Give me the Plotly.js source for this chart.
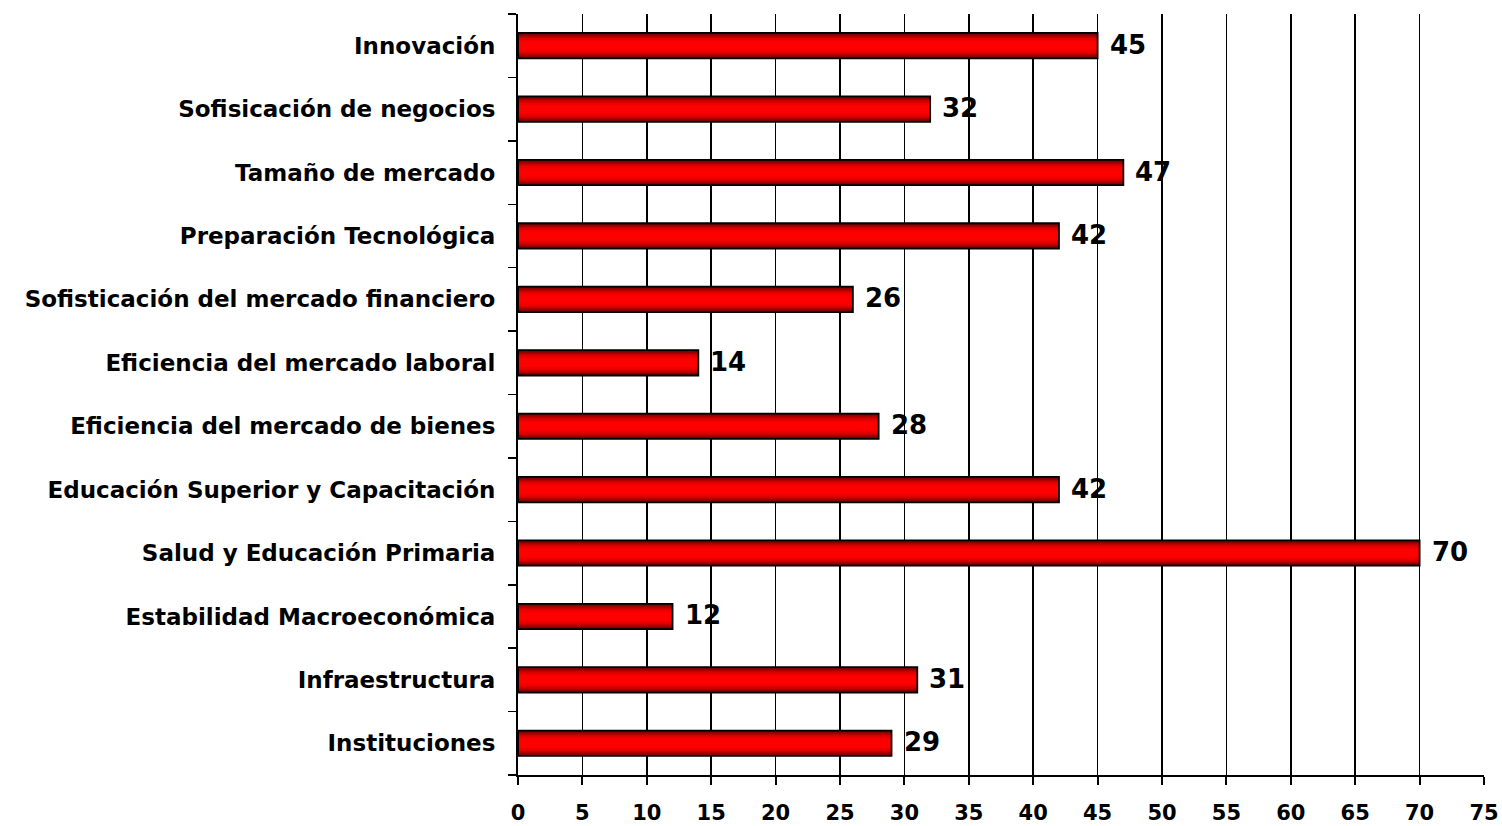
<!DOCTYPE html>
<html>
<head>
<meta charset="utf-8">
<script src="https://cdn.plot.ly/plotly-3.0.1.min.js"></script>
<style>html,body{margin:0;padding:0;background:#fff}#chart{width:1502px;height:826px}</style>
</head>
<body>
<div id="chart"></div>
<script>
const categories = [
  "Instituciones",
  "Infraestructura",
  "Estabilidad Macroeconómica",
  "Salud y Educación Primaria",
  "Educación Superior y Capacitación",
  "Eficiencia del mercado de bienes",
  "Eficiencia del mercado laboral",
  "Sofisticación del mercado financiero",
  "Preparación Tecnológica",
  "Tamaño de mercado",
  "Sofisicación de negocios",
  "Innovación"
];
const values = [29, 31, 12, 70, 42, 28, 14, 26, 42, 47, 32, 45];
const xTicks = [0,5,10,15,20,25,30,35,40,45,50,55,60,65,70,75];

const FONT = "DejaVu Sans, Verdana, sans-serif";
// layered bars to imitate the cylinder gradient
const layers = [
  {w: 0.40, c: "#6e0000"},
  {w: 0.36, c: "#8c0000"},
  {w: 0.32, c: "#aa0000"},
  {w: 0.28, c: "#c80000"},
  {w: 0.24, c: "#e00000"},
  {w: 0.19, c: "#f20000"},
  {w: 0.13, c: "#ff0000"}
];
const traces = layers.map(l => ({
  type: "bar", orientation: "h",
  x: values, y: categories,
  width: l.w,
  marker: {color: l.c, line: {width: 0}},
  hoverinfo: "skip", showlegend: false
}));
traces.push({
  type: "bar", orientation: "h",
  x: values, y: categories, width: 0.40,
  marker: {color: "rgba(0,0,0,0)", line: {color: "#000", width: 1.8}},
  hoverinfo: "skip", showlegend: false
});

const annotations = values.map((v, i) => ({
  x: v, y: categories[i], xref: "x", yref: "y",
  text: String(v), showarrow: false,
  xanchor: "left", yanchor: "middle", xshift: 10, yshift: 1,
  font: {family: FONT, size: 26, color: "#000", weight: "bold"}
}));

const layout = {
  width: 1502, height: 826,
  margin: {l: 518, r: 18, t: 14, b: 51},
  paper_bgcolor: "#fff", plot_bgcolor: "#fff",
  barmode: "overlay",
  showlegend: false,
  xaxis: {
    range: [0, 75],
    tickvals: xTicks,
    ticktext: xTicks.map(String),
    showgrid: true, gridcolor: "#000", gridwidth: 1.5,
    zeroline: false,
    showline: true, linecolor: "#000", linewidth: 2,
    ticks: "outside", ticklen: 8, tickwidth: 2, tickcolor: "#000",
    ticklabelstandoff: 10,
    tickfont: {family: FONT, size: 21, color: "#000", weight: "bold"},
    fixedrange: true
  },
  yaxis: {
    type: "category",
    categoryorder: "array", categoryarray: categories,
    range: [-0.5, categories.length - 0.5],
    showgrid: false, zeroline: false,
    showline: true, linecolor: "#000", linewidth: 2,
    ticks: "outside", ticklen: 8, tickwidth: 1.5, tickcolor: "#000",
    tickson: "boundaries",
    ticklabelstandoff: 16,
    tickfont: {family: FONT, size: 23, color: "#000", weight: "bold"},
    fixedrange: true
  },
  annotations: annotations
};

Plotly.newPlot("chart", traces, layout, {displayModeBar: false, staticPlot: true});
</script>
</body>
</html>
